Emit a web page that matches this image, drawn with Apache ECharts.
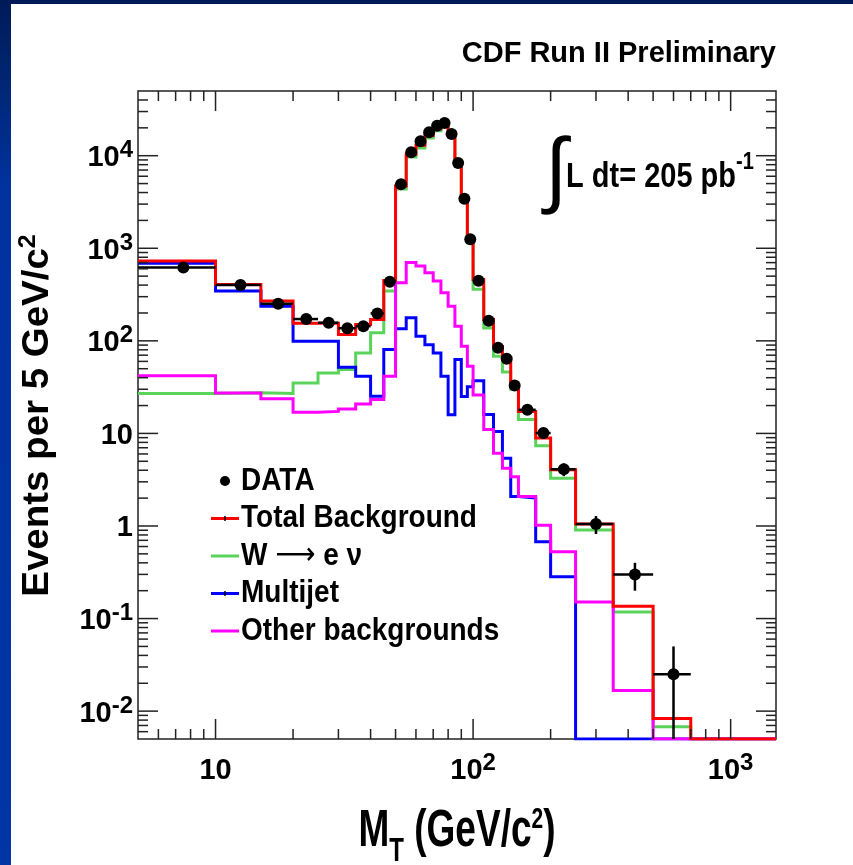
<!DOCTYPE html>
<html lang="en">
<head>
<meta charset="utf-8">
<title>CDF Run II – transverse mass, W → eν</title>
<script src="https://cdn.jsdelivr.net/npm/echarts@6.0.0/dist/echarts.min.js"></script>
<style>
  html, body { margin: 0; padding: 0; background: #ffffff; }
  #chart { width: 853px; height: 865px; }
</style>
</head>
<body>
<div id="chart"></div>
<script>
// ---- binning in M_T (GeV/c^2): 5 GeV up to 100, wider above ----------------
const binEdges = [5, 10, 15, 20, 25, 30, 35, 40, 45, 50, 55, 60, 65, 70, 75, 80, 85, 90, 95, 100,
                  110, 120, 130, 140, 150, 175, 200, 250, 350, 500, 700, 1500];

// ---- observed events per 5 GeV/c^2 (one entry per bin) ----------------------
const dataValues = [618, 401, 252, 172, 157, 137, 144, 198, 436, 4930, 10900, 14300, 17900, 21100,
                    22600, 17200, 8340, 3420, 1250, 447, 165, 84, 64, 33, 18.0, 10.1, 4.1, 1.05,
                    0.30, 0.025, null];
const dataErrors = [25, 20, 16, 13, 12.5, 11.7, 12, 14, 21, 70, 104, 120, 134, 145,
                    150, 131, 91, 58, 35, 15, 9.1, 6.5, 5.7, 4.1, 1.9, 1.4, 0.64, 0.23,
                    0.10, 0.025, null];

// ---- expected contributions, events per 5 GeV/c^2 --------------------------
const totalBackground = [728, 405, 270, 155, 155, 117, 150, 170, 450, 4700, 10400, 13000, 16500, 19500,
                         21500, 18000, 8100, 3400, 1250, 460, 170, 87, 66, 32, 17.3, 8.9, 4.04, 1.05,
                         0.136, 0.0083, 0];
const wToENu = [27, 27.5, 27, 35, 45, 49, 74, 122, 345, 4370, 9700, 12100, 15500, 18600,
                20800, 17400, 7800, 3200, 1150, 361, 138, 68, 46, 30, 14.1, 7.35, 3.28, 0.905,
                0.118, 0.0068, 0];
const multijet = [690, 345, 237, 99, 99, 52, 41.5, 25.2, 80.6, 135, 178, 112, 91, 74,
                  41.4, 15.9, 62.8, 25, 32, 37, 16, 10.5, 5.4, 2.08, 2.0, 0.676, 0.283, 0,
                  0, 0, 0];
const otherBackgrounds = [42, 27.4, 23.7, 16.9, 17.3, 18.4, 20.8, 23.2, 41.4, 425, 700, 644, 545, 443,
                          331, 237, 144, 87.5, 53, 26, 11, 6.1, 4.2, 3.4, 2.08, 1.02, 0.527, 0.151,
                          0.0167, 0, 0];

// ---- decade labels (powers of ten) ------------------------------------------
const xLabelPowers = [1, 2, 3];
const yLabelPowers = [-2, -1, 0, 1, 2, 3, 4];

const X_MIN = 5, X_MAX = 1500;
const Y_MIN = 0.005, Y_MAX = 50000;

const FONT = "'Liberation Sans', Arial, Helvetica, sans-serif";
const INK = '#000000';
const FRAME = '#222222';
const COLORS = { total: '#ff0000', w: '#5ad35a', multijet: '#0000ff', other: '#ff00ff' };

// Step outline of a histogram; empty bins sit on the lower frame edge
function histPoints(values) {
  const pts = values.map((v, i) => [binEdges[i], v > 0 ? v : Y_MIN]);
  const last = values[values.length - 1];
  pts.push([binEdges[binEdges.length - 1], last > 0 ? last : Y_MIN]);
  return pts;
}

function histSeries(name, values, color) {
  return {
    name, type: 'line', step: 'end', data: histPoints(values),
    symbol: 'none', showSymbol: false, clip: true, silent: true, animation: false,
    lineStyle: { color, width: 3, join: 'miter' }, itemStyle: { color }, z: 3
  };
}

// data points: [low edge, high edge, value, error]
const dataItems = [];
dataValues.forEach((v, i) => {
  if (v != null) dataItems.push([binEdges[i], binEdges[i + 1], v, dataErrors[i]]);
});

// minor/major tick positions on a log axis
function logTicks(lo, hi, kLo, kHi) {
  const out = [];
  for (let k = kLo; k <= kHi; k++) {
    for (let m = 1; m <= 9; m++) {
      const v = m * Math.pow(10, k);
      if (v > lo * 1.0001 && v < hi * 0.9999) out.push([v, m === 1 ? 1 : 0]);
    }
  }
  return out;
}
const yTickItems = logTicks(Y_MIN, Y_MAX, -3, 4).map(t => [X_MIN, t[0], t[1]]);
const xTickItems = logTicks(X_MIN, X_MAX, 0, 3).map(t => [t[0], Y_MIN, t[1]]);
const yLabelItems = yLabelPowers.map(k => [X_MIN, Math.pow(10, k), k]);
const xLabelItems = xLabelPowers.map(k => [Math.pow(10, k), Y_MIN, k]);

const tickRich = {
  b: { fontSize: 29, fontWeight: 'bold', fontFamily: FONT, fill: INK, padding: [5, 0, 0, 0], verticalAlign: 'top' },
  s: { fontSize: 24, fontWeight: 'bold', fontFamily: FONT, fill: INK, verticalAlign: 'top' }
};
function powerText(k) {
  if (k === 0) return '{b|1}';
  if (k === 1) return '{b|10}';
  return '{b|10}{s|' + k + '}';
}

const MAJOR_LEN = 20, MINOR_LEN = 10;
const tickStyle = { stroke: FRAME, lineWidth: 1.5 };

const series = [
  histSeries('W → e ν', wToENu, COLORS.w),
  histSeries('Multijet', multijet, COLORS.multijet),
  histSeries('Other backgrounds', otherBackgrounds, COLORS.other),
  histSeries('Total Background', totalBackground, COLORS.total),
  {
    name: 'DATA', type: 'custom', data: dataItems, encode: { x: [0, 1], y: 2 },
    clip: false, silent: true, animation: false, z: 5,
    renderItem(params, api) {
      const lo = api.value(0), hi = api.value(1), v = api.value(2), e = api.value(3);
      const c = (lo + hi) / 2;
      const pc = api.coord([c, v]);
      const pl = api.coord([lo, v]);
      const ph = api.coord([hi, v]);
      const pt = api.coord([c, v + e]);
      const pb = api.coord([c, Math.max(v - e, Y_MIN)]);
      return {
        type: 'group', children: [
          { type: 'line', shape: { x1: pl[0], y1: pc[1], x2: ph[0], y2: pc[1] }, style: { stroke: INK, lineWidth: 2.5 } },
          { type: 'line', shape: { x1: pc[0], y1: pt[1], x2: pc[0], y2: pb[1] }, style: { stroke: INK, lineWidth: 2.5 } },
          { type: 'circle', shape: { cx: pc[0], cy: pc[1], r: 6 }, style: { fill: INK } }
        ]
      };
    }
  },
  {
    type: 'custom', data: yTickItems, encode: { x: 0, y: 1 }, clip: false, silent: true, animation: false, z: 6,
    renderItem(params, api) {
      const p = api.coord([X_MIN, api.value(1)]);
      const len = api.value(2) ? MAJOR_LEN : MINOR_LEN;
      const cs = params.coordSys;
      const l = cs.x, r = cs.x + cs.width;
      return {
        type: 'group', children: [
          { type: 'line', shape: { x1: l, y1: p[1], x2: l + len, y2: p[1] }, style: tickStyle },
          { type: 'line', shape: { x1: r, y1: p[1], x2: r - len, y2: p[1] }, style: tickStyle }
        ]
      };
    }
  },
  {
    type: 'custom', data: xTickItems, encode: { x: 0, y: 1 }, clip: false, silent: true, animation: false, z: 6,
    renderItem(params, api) {
      const p = api.coord([api.value(0), Y_MIN]);
      const len = api.value(2) ? MAJOR_LEN : MINOR_LEN;
      const cs = params.coordSys;
      const t = cs.y, b = cs.y + cs.height;
      return {
        type: 'group', children: [
          { type: 'line', shape: { x1: p[0], y1: b, x2: p[0], y2: b - len }, style: tickStyle },
          { type: 'line', shape: { x1: p[0], y1: t, x2: p[0], y2: t + len }, style: tickStyle }
        ]
      };
    }
  },
  {
    type: 'custom', data: yLabelItems, encode: { x: 0, y: 1 }, clip: false, silent: true, animation: false, z: 6,
    renderItem(params, api) {
      const p = api.coord([X_MIN, api.value(1)]);
      return {
        type: 'text',
        style: {
          text: powerText(api.value(2)), rich: tickRich, fontFamily: FONT, fontSize: 29, fontWeight: 'bold', fill: INK,
          x: params.coordSys.x - 5, y: p[1], align: 'right', verticalAlign: 'middle'
        }
      };
    }
  },
  {
    type: 'custom', data: xLabelItems, encode: { x: 0, y: 1 }, clip: false, silent: true, animation: false, z: 6,
    renderItem(params, api) {
      const p = api.coord([api.value(0), Y_MIN]);
      return {
        type: 'text',
        style: {
          text: powerText(api.value(2)), rich: tickRich, fontFamily: FONT, fontSize: 29, fontWeight: 'bold', fill: INK,
          x: p[0], y: params.coordSys.y + params.coordSys.height + 12, align: 'center', verticalAlign: 'top'
        }
      };
    }
  }
];

// ---- legend block ---------------------------------------------------------
const legendText = { fontSize: 28, fontWeight: 'bold', fontFamily: FONT, fill: INK, verticalAlign: 'middle' };
const legendRows = [
  { label: '{t|DATA}', kind: 'dot' },
  { label: '{t|Total Background}', color: COLORS.total, bar: true },
  { label: '{t|W }{a|⟶}{t| e ν}', color: COLORS.w },
  { label: '{t|Multijet}', color: COLORS.multijet, bar: true },
  { label: '{t|Other backgrounds}', color: COLORS.other }
];
const legendElements = [];
legendRows.forEach((row, i) => {
  const y = 481 + i * 37.5;
  if (row.kind === 'dot') {
    legendElements.push({ type: 'circle', shape: { cx: 225, cy: y, r: 5 }, style: { fill: INK }, z: 10 });
  } else {
    legendElements.push({ type: 'line', shape: { x1: 211, y1: y, x2: 239, y2: y }, style: { stroke: row.color, lineWidth: 3 }, z: 10 });
    if (row.bar) {
      legendElements.push({ type: 'line', shape: { x1: 225, y1: y - 2.5, x2: 225, y2: y + 2.5 }, style: { stroke: INK, lineWidth: 1.5 }, z: 11 });
    }
  }
  legendElements.push({
    type: 'text', x: 241, y: y, scaleY: 1.12, z: 10,
    style: {
      text: row.label, align: 'left', verticalAlign: 'middle', fill: INK,
      rich: {
        t: legendText,
        a: { fontSize: 28, fontFamily: "'DejaVu Sans', sans-serif", fill: INK, verticalAlign: 'middle' }
      }
    }
  });
});

const graphic = [
  // slide background strips
  {
    type: 'rect', shape: { x: 0, y: 0, width: 11, height: 865 }, silent: true, z: -10,
    style: { fill: { type: 'linear', x: 0, y: 0, x2: 0, y2: 1, colorStops: [
      { offset: 0, color: '#001a58' }, { offset: 0.08, color: '#00246f' },
      { offset: 0.22, color: '#0033a0' }, { offset: 1, color: '#0035a6' } ] } }
  },
  { type: 'rect', shape: { x: 0, y: 0, width: 853, height: 4 }, silent: true, z: -10, style: { fill: '#001a58' } },

  // header
  {
    type: 'text', x: 776, y: 54, z: 10,
    style: { text: 'CDF Run II Preliminary', fontFamily: FONT, fontSize: 29, fontWeight: 'bold', fill: INK, align: 'right', verticalAlign: 'middle' }
  },

  // integrated luminosity
  {
    type: 'text', x: 556, y: 174, scaleY: 1.05, z: 10,
    style: { text: '∫', fontFamily: FONT, fontSize: 80, fill: INK, align: 'center', verticalAlign: 'middle' }
  },
  {
    type: 'text', x: 566, y: 172.7, scaleY: 1.2, z: 10,
    style: {
      text: '{m|L dt= 205 pb}{s|-1}', align: 'left', verticalAlign: 'middle', fill: INK,
      rich: {
        m: { fontSize: 29, fontWeight: 'bold', fontFamily: FONT, fill: INK, padding: [8, 0, 0, 0], verticalAlign: 'top' },
        s: { fontSize: 20, fontWeight: 'bold', fontFamily: FONT, fill: INK, verticalAlign: 'top' }
      }
    }
  },

  // y-axis title
  {
    type: 'text', x: 35, y: 415.5, rotation: Math.PI / 2, scaleX: 1.04, z: 10,
    style: {
      text: '{m|Events per 5 GeV/c}{s|2}', align: 'center', verticalAlign: 'middle', fill: INK,
      rich: {
        m: { fontSize: 37, fontWeight: 'bold', fontFamily: FONT, fill: INK, padding: [5, 0, 0, 0], verticalAlign: 'top' },
        s: { fontSize: 24, fontWeight: 'bold', fontFamily: FONT, fill: INK, padding: [2, 0, 0, 0], verticalAlign: 'top' }
      }
    }
  },

  // x-axis title
  {
    type: 'text', x: 457, y: 837, scaleY: 1.385, z: 10,
    style: {
      text: '{m|M}{sub|T}{m| (GeV/c}{sup|2}{m|)}', align: 'center', verticalAlign: 'middle', fill: INK,
      rich: {
        m: { fontSize: 37, fontWeight: 'bold', fontFamily: FONT, fill: INK, verticalAlign: 'top' },
        sub: { fontSize: 24, fontWeight: 'bold', fontFamily: FONT, fill: INK, padding: [21, 0, 0, 0], verticalAlign: 'top' },
        sup: { fontSize: 21, fontWeight: 'bold', fontFamily: FONT, fill: INK, verticalAlign: 'top' }
      }
    }
  }
].concat(legendElements);

const chart = echarts.init(document.getElementById('chart'), null, { renderer: 'canvas', width: 853, height: 865 });
chart.setOption({
  animation: false,
  backgroundColor: '#ffffff',
  grid: {
    left: 138, right: 77, top: 91, bottom: 126, containLabel: false, outerBoundsMode: 'none',
    show: true, borderColor: FRAME, borderWidth: 1.5, backgroundColor: 'transparent'
  },
  xAxis: {
    type: 'log', logBase: 10, min: X_MIN, max: X_MAX,
    axisLine: { show: false }, axisTick: { show: false }, axisLabel: { show: false }, splitLine: { show: false }
  },
  yAxis: {
    type: 'log', logBase: 10, min: Y_MIN, max: Y_MAX,
    axisLine: { show: false }, axisTick: { show: false }, axisLabel: { show: false }, splitLine: { show: false }
  },
  series,
  graphic
});
</script>
</body>
</html>
